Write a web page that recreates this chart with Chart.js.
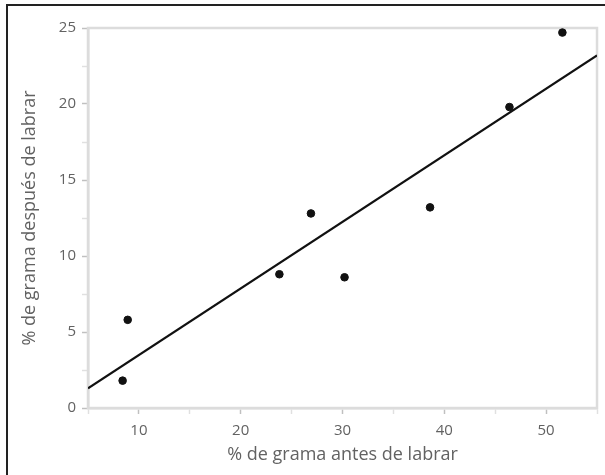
<!DOCTYPE html>
<html>
<head>
<meta charset="utf-8">
<script src="https://cdn.jsdelivr.net/npm/chart.js@4"></script>
<style>
  html, body { margin: 0; padding: 0; background: #fff; }
  #wrap { position: relative; width: 605px; height: 475px; }
  #frame { position: absolute; left: 6px; top: 4px; width: 610px; height: 480px;
           border-left: 2px solid #222; border-top: 2px solid #222; pointer-events: none; }
  canvas { position: absolute; left: 0; top: 0; }
</style>
</head>
<body>
<div id="wrap">
  <canvas id="c" width="605" height="475"></canvas>
  <div id="frame"></div>
</div>
<script>
// Data
const antesLabrar = [8.4, 8.9, 23.8, 26.9, 30.2, 38.6, 46.4, 51.6];
const despuesLabrar = [1.8, 5.8, 8.8, 12.8, 8.6, 13.2, 19.8, 24.7];
const trendX = [5, 55];
const trendY = [1.3, 23.2];
const xTickLabels = [10, 20, 30, 40, 50];
const yTickLabels = [0, 5, 10, 15, 20, 25];
const xTitle = '% de grama antes de labrar';
const yTitle = '% de grama después de labrar';

const points = antesLabrar.map((x, i) => ({ x: x, y: despuesLabrar[i] }));
const trend = trendX.map((x, i) => ({ x: x, y: trendY[i] }));

const frameColor = '#dcdcdc';
const textColor = '#626262';

const framePlugin = {
  id: 'framePlugin',
  beforeDatasetsDraw(chart) {
    const { ctx, chartArea: a } = chart;
    ctx.save();
    ctx.strokeStyle = frameColor;
    ctx.lineWidth = 2.5;
    ctx.strokeRect(a.left, a.top, a.right - a.left, a.bottom - a.top);
    ctx.restore();
  }
};

new Chart(document.getElementById('c'), {
  type: 'scatter',
  data: {
    datasets: [
      {
        type: 'line',
        data: trend,
        borderColor: '#111',
        borderWidth: 2.2,
        pointRadius: 0,
        fill: false,
        tension: 0
      },
      {
        data: points,
        backgroundColor: '#111',
        borderColor: '#111',
        pointRadius: 3.8,
        pointHoverRadius: 3.8
      }
    ]
  },
  plugins: [framePlugin],
  options: {
    responsive: false,
    animation: false,
    layout: { padding: { left: 0, top: 28, right: 7, bottom: 0 } },
    plugins: { legend: { display: false }, tooltip: { enabled: false } },
    scales: {
      x: {
        type: 'linear',
        min: 5,
        max: 55,
        afterFit(s) { s.height = 67; },
        afterBuildTicks(s) {
          const t = [];
          for (let v = 5; v <= 55; v += 5) t.push({ value: v });
          s.ticks = t;
        },
        ticks: {
          color: textColor,
          font: { family: 'Open Sans', size: 15 },
          padding: 8,
          maxRotation: 0,
          autoSkip: false,
          callback: (v) => xTickLabels.includes(v) ? String(v) : ''
        },
        grid: {
          drawOnChartArea: false,
          drawTicks: true,
          tickLength: 6,
          tickColor: (c) => xTickLabels.includes(c.tick && c.tick.value) ? '#c0c0c0' : '#e0e0e0',
          tickWidth: 1.5
        },
        border: { display: true, color: frameColor, width: 2.5 },
        title: {
          display: true,
          text: xTitle,
          color: textColor,
          font: { family: 'Open Sans', size: 18 },
          padding: { top: 0, bottom: 9 }
        }
      },
      y: {
        type: 'linear',
        min: 0,
        max: 25,
        afterFit(s) { s.width = 88; },
        afterBuildTicks(s) {
          const t = [];
          for (let v = 0; v <= 25; v += 2.5) t.push({ value: v });
          s.ticks = t;
        },
        ticks: {
          color: textColor,
          font: { family: 'Open Sans', size: 15 },
          padding: 6,
          autoSkip: false,
          callback: (v) => yTickLabels.includes(v) ? String(v) : ''
        },
        grid: {
          drawOnChartArea: false,
          drawTicks: true,
          tickLength: 6,
          tickColor: (c) => yTickLabels.includes(c.tick && c.tick.value) ? '#c0c0c0' : '#e0e0e0',
          tickWidth: 1.5
        },
        border: { display: true, color: frameColor, width: 2.5 },
        title: {
          display: true,
          text: yTitle,
          color: textColor,
          font: { family: 'Open Sans', size: 18 },
          padding: { top: 19, bottom: 0 }
        }
      }
    }
  }
});
</script>
</body>
</html>
